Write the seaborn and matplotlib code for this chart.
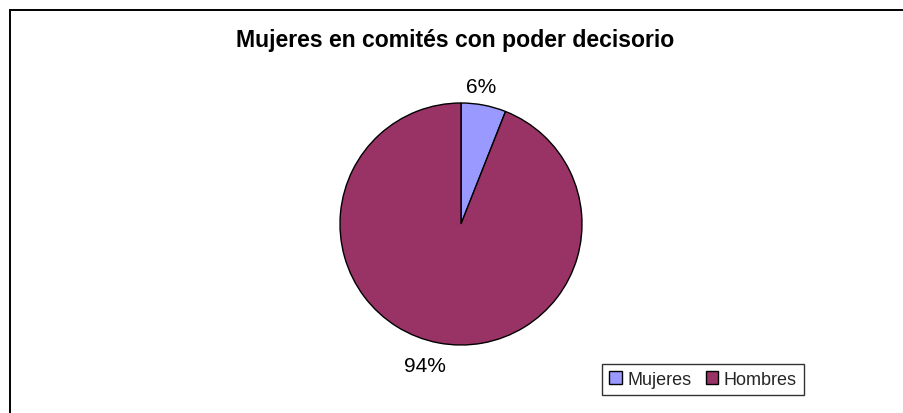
import matplotlib
matplotlib.use("Agg")
import matplotlib.pyplot as plt
import seaborn as sns
from matplotlib.patches import Rectangle

# ── Data ──────────────────────────────────────────────────────────────────────
TITLE = "Mujeres en comités con poder decisorio"
CATEGORIES = ["Mujeres", "Hombres"]
SHARES = [6, 94]
COLORS = ["#9999FF", "#993366"]

# ── Style ─────────────────────────────────────────────────────────────────────
sns.set_theme(style="white")
plt.rcParams["font.family"] = ["Liberation Sans", "DejaVu Sans"]

W, H = 904, 414
fig = plt.figure(figsize=(W / 100, H / 100), dpi=100)
fig.patch.set_facecolor("white")

# outer chart frame (runs off the right and bottom edges)
fig.patches.append(Rectangle((9.5 / W, -0.1), 1.2, (H - 10.5) / H + 0.1,
                             transform=fig.transFigure, fill=False,
                             edgecolor="black", lw=1.4, zorder=0))

# pie axes: centre (461, 225) px, radius 121 px
cx, cy, r = 461, 225, 121
half = 150
ax = fig.add_axes([(cx - half) / W, (H - cy - half) / H, 2 * half / W, 2 * half / H])
wedges, _, autotexts = ax.pie(
    SHARES,
    colors=COLORS,
    startangle=90,
    counterclock=False,
    autopct="%1.0f%%",
    pctdistance=1.16,
    wedgeprops=dict(edgecolor="black", linewidth=1),
    textprops=dict(fontsize=15, color="black"),
)
# Excel-style label placement
autotexts[0].set_position((0.17, 1.14))
autotexts[1].set_position((-0.30, -1.17))

lim = half / r
ax.set_xlim(-lim, lim)
ax.set_ylim(-lim, lim)
ax.set_aspect("equal")
ax.axis("off")

fig.text(455.5 / W, (H - 40) / H, TITLE, ha="center", va="center",
         fontsize=16.6, fontweight="bold", color="black")

leg = fig.legend(wedges, CATEGORIES, loc="center",
                 bbox_to_anchor=(703 / W, (H - 380.5) / H),
                 ncol=2, fontsize=13, frameon=True, fancybox=False,
                 handlelength=0.7, handleheight=0.7, handletextpad=0.3,
                 columnspacing=0.8, borderpad=0.4, borderaxespad=0)
leg.get_frame().set_edgecolor("black")
leg.get_frame().set_linewidth(1)

fig.savefig("out.png", dpi=100, facecolor="white")
